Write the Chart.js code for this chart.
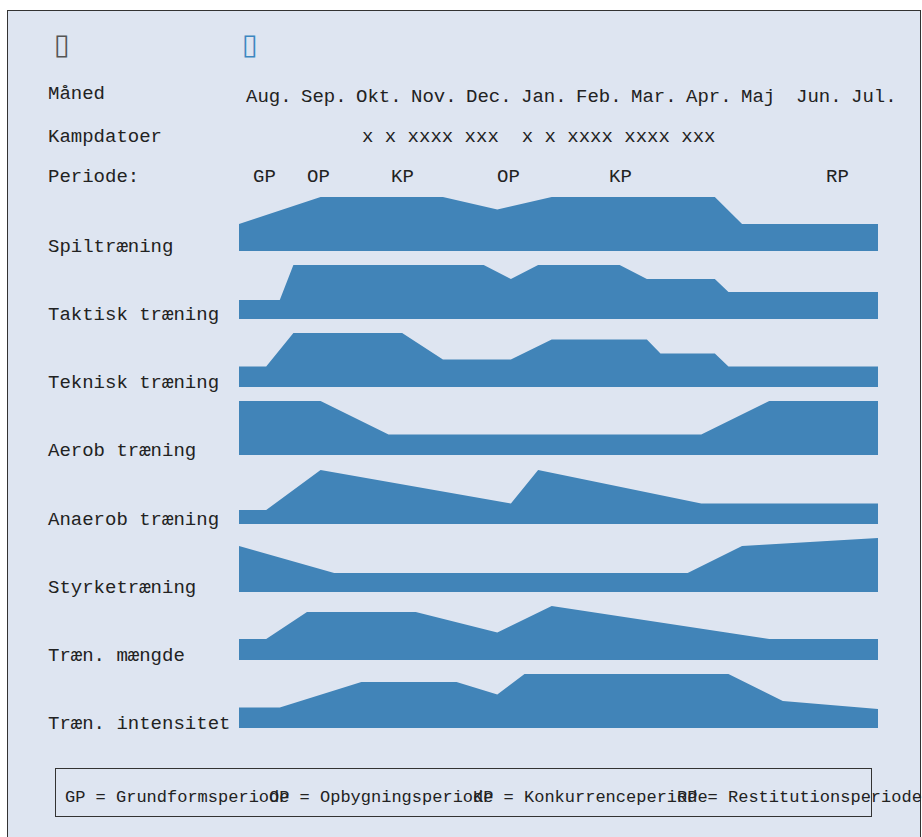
<!DOCTYPE html>
<html lang="da">
<head>
<meta charset="utf-8">
<title>Træningsplan</title>
<script src="https://cdn.jsdelivr.net/npm/chart.js"></script>
<style>
  html, body { margin: 0; padding: 0; background: #fff; }
  body { width: 922px; height: 837px; overflow: hidden; position: relative;
         font-family: "Courier New", "Nimbus Mono PS", "Nimbus Mono L", FreeMono, Courier, "Liberation Mono", monospace;
         color: #222; }
  #frame { position: absolute; left: 7px; top: 10px; width: 912px; height: 840px;
           background: #dee5f1; border: 1px solid #333; }
  .txt { position: absolute; font-size: 19px; line-height: 19px; white-space: pre; }
  .band { position: absolute; left: 239px; width: 639px; height: 54px; }
  .tofu { position: absolute; font-family: "DejaVu Sans", sans-serif; font-size: 29px; line-height: 29px; }
  #legendBox { position: absolute; left: 55px; top: 768px; width: 815px; height: 47px;
               border: 1px solid #333; }
  .leg { position: absolute; font-size: 17px; line-height: 17px; white-space: pre; }
</style>
</head>
<body>
<div id="frame"></div>
<span class="tofu" style="left:54px;top:30px;color:#555">&#x25AF;</span>
<span class="tofu" style="left:242px;top:30px;color:#3d87c0">&#x25AF;</span>
<div id="header"></div>
<div id="rows"></div>
<div id="legendBox"></div>
<div id="legend"></div>

<script>
  'use strict';

  // ==================== Data ====================
  const MONTHS = ['Aug.', 'Sep.', 'Okt.', 'Nov.', 'Dec.', 'Jan.', 'Feb.', 'Mar.', 'Apr.', 'Maj', 'Jun.', 'Jul.'];
  const MATCH_DATES = 'x x xxxx xxx  x x xxxx xxxx xxx';
  const PERIODS = ['GP', 'OP', 'KP', 'OP', 'KP', 'RP'];
  const PERIOD_LEFT = [253, 307, 391, 497, 609, 826];
  const LEGEND_ITEMS = ['GP = Grundformsperiode', 'OP = Opbygningsperiode',
                        'KP = Konkurrenceperiode', 'RP = Restitutionsperiode'];

  const ROW_NAMES = ['Spiltræning', 'Taktisk træning', 'Teknisk træning', 'Aerob træning',
                     'Anaerob træning', 'Styrketræning', 'Træn. mængde', 'Træn. intensitet'];

  // week index (0..47) and relative load (0..10) for each row
  const spilWeeks = [0, 6, 15, 19, 23, 35, 37, 47];
  const spilLoad  = [5, 10, 10, 7.7, 10, 10, 5, 5];

  const taktWeeks = [0, 3, 4, 18, 20, 22, 28, 30, 35, 36, 47];
  const taktLoad  = [3.5, 3.5, 10, 10, 7.4, 10, 10, 7.4, 7.4, 5, 5];

  const tekWeeks = [0, 2, 4, 12, 15, 20, 23, 30, 31, 35, 36, 47];
  const tekLoad  = [3.8, 3.8, 10, 10, 5.1, 5.1, 8.8, 8.8, 6.2, 6.2, 3.8, 3.8];

  const aerobWeeks = [0, 6, 11, 34, 39, 47];
  const aerobLoad  = [10, 10, 3.8, 3.8, 10, 10];

  const anaerobWeeks = [0, 2, 6, 20, 22, 34, 47];
  const anaerobLoad  = [2.6, 2.6, 10, 3.8, 10, 3.8, 3.8];

  const styrkeWeeks = [0, 7, 33, 37, 47];
  const styrkeLoad  = [8.5, 3.5, 3.5, 8.5, 10];

  const maengdeWeeks = [0, 2, 5, 13, 19, 23, 39, 47];
  const maengdeLoad  = [3.9, 3.9, 8.9, 8.9, 5.1, 10, 3.9, 3.9];

  const intensWeeks = [0, 3, 9, 16, 19, 21, 36, 40, 47];
  const intensLoad  = [3.8, 3.8, 8.5, 8.5, 6.2, 10, 10, 5, 3.5];

  const ROW_WEEKS = [spilWeeks, taktWeeks, tekWeeks, aerobWeeks, anaerobWeeks, styrkeWeeks, maengdeWeeks, intensWeeks];
  const ROW_LOAD  = [spilLoad, taktLoad, tekLoad, aerobLoad, anaerobLoad, styrkeLoad, maengdeLoad, intensLoad];

  // ==================== Layout ====================
  const BAND_COLOR = '#4184b8';
  const FIRST_TOP = 197;
  const ROW_STEP = 68.14;

  function addText(parent, cls, text, left, top) {
    const el = document.createElement('span');
    el.className = cls;
    el.textContent = text;
    el.style.left = left + 'px';
    el.style.top = top + 'px';
    parent.appendChild(el);
    return el;
  }

  function buildHeader() {
    const header = document.getElementById('header');
    addText(header, 'txt', 'Måned', 48, 85);
    MONTHS.forEach((m, i) => addText(header, 'txt', m, 246 + i * 55, 88));
    addText(header, 'txt', 'Kampdatoer', 48, 128);
    addText(header, 'txt', MATCH_DATES, 362, 128);
    addText(header, 'txt', 'Periode:', 48, 168);
    PERIODS.forEach((p, i) => addText(header, 'txt', p, PERIOD_LEFT[i], 168));
  }

  function buildLegend() {
    const legend = document.getElementById('legend');
    LEGEND_ITEMS.forEach((t, i) => addText(legend, 'leg', t, 65 + i * 204, 789));
  }

  function buildRows() {
    const rows = document.getElementById('rows');
    ROW_NAMES.forEach((name, i) => {
      const top = Math.round(FIRST_TOP + i * ROW_STEP);
      addText(rows, 'txt', name, 48, top + 41);

      const wrap = document.createElement('div');
      wrap.className = 'band';
      wrap.style.top = top + 'px';
      const canvas = document.createElement('canvas');
      wrap.appendChild(canvas);
      rows.appendChild(wrap);

      const points = ROW_WEEKS[i].map((w, k) => ({ x: w, y: ROW_LOAD[i][k] }));

      new Chart(canvas.getContext('2d'), {
        type: 'line',
        data: {
          datasets: [{
            label: name,
            data: points,
            fill: 'origin',
            backgroundColor: BAND_COLOR,
            borderColor: 'rgba(0,0,0,0)',
            borderWidth: 1,
            pointRadius: 0,
            tension: 0
          }]
        },
        options: {
          responsive: true,
          maintainAspectRatio: false,
          animation: false,
          layout: { padding: 0 },
          plugins: { legend: { display: false }, tooltip: { enabled: false } },
          scales: {
            x: { type: 'linear', min: 0, max: 47, display: false },
            y: { min: 0, max: 10, display: false }
          }
        }
      });
    });
  }

  buildHeader();
  buildRows();
  buildLegend();
</script>
</body>
</html>
